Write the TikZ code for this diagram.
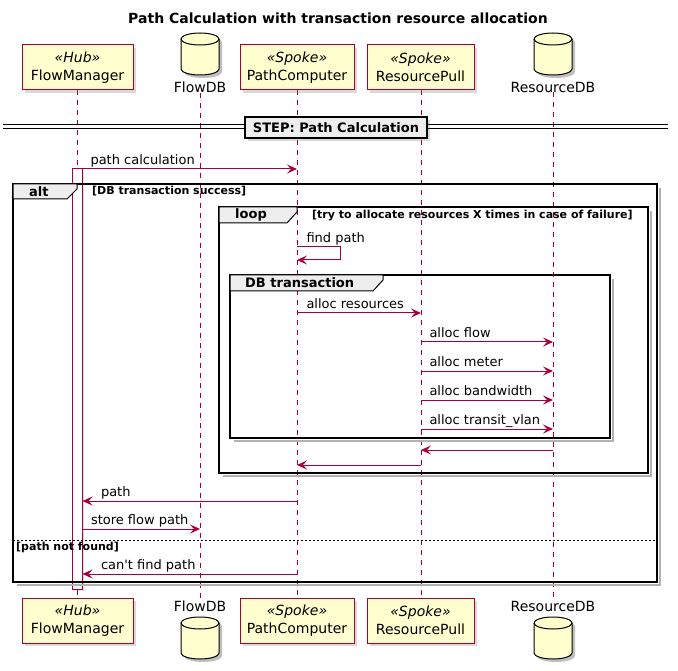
\documentclass[tikz,border=0pt]{standalone}
\usepackage{fontspec}
\setmainfont{DejaVu Sans}
\usetikzlibrary{arrows.meta,shadows}
\definecolor{umlred}{HTML}{A80036}
\definecolor{umlyellow}{HTML}{FEFECE}
\definecolor{umlgray}{HTML}{EEEEEE}
\def\dbcyl(#1,#2){%
	\fill[black!25] ({#1-16},{#2+9}) -- ({#1-16},{#2+39}) arc[start angle=180,end angle=0,x radius=19,y radius=6] -- ({#1+22},{#2+9}) arc[start angle=0,end angle=-180,x radius=19,y radius=6] -- cycle;
	\filldraw[fill=umlyellow, line width=1pt] ({#1-19},{#2+6}) -- ({#1-19},{#2+36}) arc[start angle=180,end angle=0,x radius=19,y radius=6] -- ({#1+19},{#2+6}) arc[start angle=0,end angle=-180,x radius=19,y radius=6] -- cycle;
	\draw[line width=1pt] ({#1-19},{#2+6}) arc[start angle=180,end angle=0,x radius=19,y radius=6];}
\tikzset{
	part/.style={draw=umlred, fill=umlyellow, line width=1pt, minimum height=45pt, inner sep=0pt, align=center, font=\fontsize{14}{18}\selectfont, drop shadow={shadow xshift=3pt, shadow yshift=-3pt, opacity=0.3}},
	dblabel/.style={inner sep=0pt, font=\fontsize{14}{16}\selectfont},
	lifeline/.style={draw=umlred, line width=0.6pt, dash pattern=on 5pt off 5pt},
	actbar/.style={draw=umlred, fill=white, line width=1pt, minimum width=10pt, inner sep=0pt, drop shadow={shadow xshift=2pt, shadow yshift=-2pt, opacity=0.25}},
	msg/.style={draw=umlred, line width=1pt, -{Stealth[length=10pt, width=9pt, inset=4pt]}},
	lbl/.style={anchor=base west, inner sep=0pt, yshift=4.5pt, font=\fontsize{13}{15}\selectfont},
	frame/.style={draw=black, line width=1.5pt},
	fshadow/.style={draw=black!30, line width=2.5pt},
	tab/.style={draw=black, fill=umlgray, line width=1pt},
	ftitle/.style={anchor=west, inner sep=0pt, font=\fontsize{13}{15}\bfseries\selectfont},
	fcond/.style={anchor=west, inner sep=0pt, font=\fontsize{11}{13}\bfseries\selectfont},
	elseline/.style={draw=black, line width=1pt, dash pattern=on 2pt off 2pt},
	divbox/.style={draw=black, fill=umlgray, line width=1.5pt, minimum width=182pt, minimum height=21pt, inner sep=0pt, font=\fontsize{13}{15}\bfseries\selectfont, drop shadow={shadow xshift=3pt, shadow yshift=-3pt, opacity=0.3}}
}

\begin{document}
\begin{tikzpicture}[x=1pt, y=-1pt]
		%%%%% START %%%%%
		\useasboundingbox (0,0) rectangle (678,671);
		
		\node[font=\fontsize{14}{16}\bfseries\selectfont] (title) at (338,18) {Path Calculation with transaction resource allocation};
		
		\node[dblabel] (fdb) at (200,87) {FlowDB};
		\node[dblabel] (rdb) at (553,87) {ResourceDB};
		\node[dblabel] (fdbB) at (200,606) {FlowDB};
		\node[dblabel] (rdbB) at (553,606) {ResourceDB};
		
		\draw[lifeline] (77,90) -- (77,598);
		\draw[lifeline] (fdb.south) -- (fdbB.north);
		\draw[lifeline] (297,90) -- (297,598);
		\draw[lifeline] (421,90) -- (421,598);
		\draw[lifeline] (rdb.south) -- (rdbB.north);
		
		\draw[line width=1pt] (3,125) -- (668,125) (3,129) -- (668,129);
		\node[divbox] (step) at (336,127.5) {STEP: Path Calculation};
		
		\node[actbar, minimum height=420pt] (act) at (77,379) {};
		
		\draw[fshadow] (17,585) -- (660,585) -- (660,188);
		\draw[frame] (13,184) rectangle (657,582);
		\filldraw[tab] (13,184) -- (77,184) -- (77,189) -- (67,199) -- (13,199) -- cycle;
		\node[ftitle] (altT) at (29,191.5) {alt};
		\node[fcond] (altC) at (92,191.5) {[DB transaction success]};
		\draw[elseline] (13,540) -- (657,540);
		\node[fcond] (elseC) at (16,547) {[path not found]};
		
		\draw[fshadow] (223,476) -- (651,476) -- (651,211);
		\draw[frame] (219,207) rectangle (648,473);
		\filldraw[tab] (219,207) -- (297,207) -- (297,212) -- (287,223) -- (219,223) -- cycle;
		\node[ftitle] (loopT) at (235,215) {loop};
		\node[fcond] (loopC) at (312,216) {[try to allocate resources X times in case of failure]};
		
		\draw[fshadow] (234,441) -- (613,441) -- (613,279);
		\draw[frame] (230,275) rectangle (610,438);
		\filldraw[tab] (230,275) -- (383,275) -- (383,280) -- (373,291) -- (230,291) -- cycle;
		\node[ftitle] (dbT) at (245,283) {DB transaction};
		
		\draw[msg] (77,169) -- node[lbl, pos=0, xshift=13pt] (m1) {path calculation} (297,169);
		\draw[msg] (297,247) -- node[lbl, pos=0, xshift=9pt] (m2) {find path} (340,247) -- (340,260) -- (297,260);
		\draw[msg] (297,313) -- node[lbl, pos=0, xshift=9pt] (m3) {alloc resources} (421,313);
		\draw[msg] (421,342) -- node[lbl, pos=0, xshift=8pt] (m4) {alloc flow} (553,342);
		\draw[msg] (421,371) -- node[lbl, pos=0, xshift=8pt] (m5) {alloc meter} (553,371);
		\draw[msg] (421,400) -- node[lbl, pos=0, xshift=8pt] (m6) {alloc bandwidth} (553,400);
		\draw[msg] (421,429) -- node[lbl, pos=0, xshift=8pt] (m7) {alloc transit\_vlan} (553,429);
		\draw[msg] (553,450) -- (421,450);
		\draw[msg] (421,465) -- (297,465);
		\draw[msg] (297,501) -- node[lbl, pos=1, xshift=18pt] (m8) {path} (act.east |- 0,501);
		\draw[msg] (act.east |- 0,529) -- node[lbl, pos=0, xshift=8pt] (m9) {store flow path} (200,529);
		\draw[msg] (297,574) -- node[lbl, pos=1, xshift=18pt] (m10) {can\textquotesingle t find path} (act.east |- 0,574);
		
		\node[part, minimum width=111pt] (fm) at (77.5,67.5) {\textit{«Hub»}\\FlowManager};
		\node[part, minimum width=114pt] (pc) at (297,67.5) {\textit{«Spoke»}\\PathComputer};
		\node[part, minimum width=107pt] (rp) at (420.5,67.5) {\textit{«Spoke»}\\ResourcePull};
		\node[part, minimum width=111pt] (fmB) at (77.5,620.5) {\textit{«Hub»}\\FlowManager};
		\node[part, minimum width=114pt] (pcB) at (297,620.5) {\textit{«Spoke»}\\PathComputer};
		\node[part, minimum width=107pt] (rpB) at (420.5,620.5) {\textit{«Spoke»}\\ResourcePull};
		\dbcyl(200,33)
		\dbcyl(553,33)
		\dbcyl(200,617)
		\dbcyl(553,617)
		
		%%%%% END %%%%%
\end{tikzpicture}
\end{document}
